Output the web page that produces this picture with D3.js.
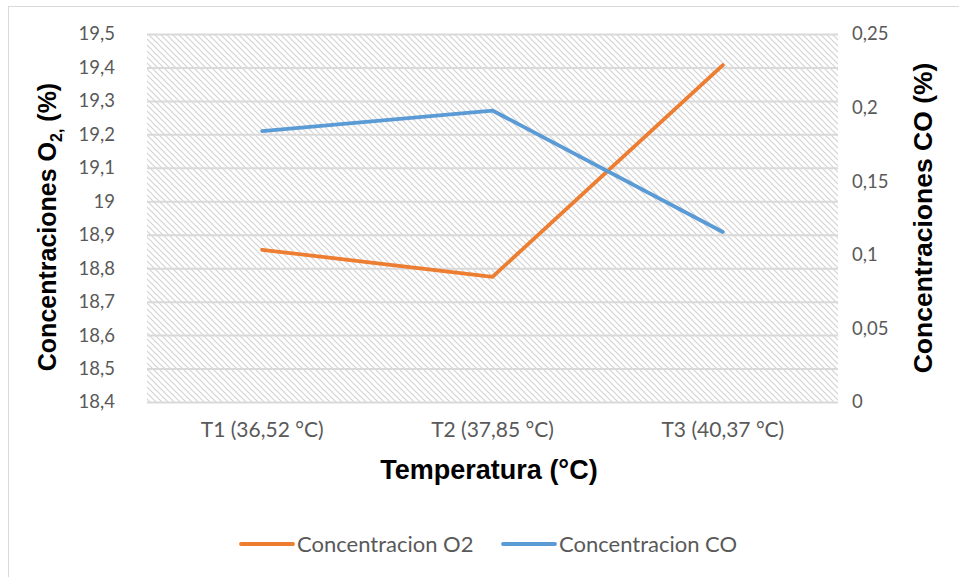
<!DOCTYPE html>
<html>
<head>
<meta charset="utf-8">
<script src="https://cdn.jsdelivr.net/npm/d3@7/dist/d3.min.js"></script>
<style>
  html, body { margin: 0; padding: 0; background: #fff; }
  svg { display: block; }
</style>
</head>
<body>
<svg id="chart" width="959" height="577"></svg>
<script>
// Temperature stages and measured gas concentrations
const categories = ["T1 (36,52 °C)", "T2 (37,85 °C)", "T3 (40,37 °C)"];
const o2Values = [18.855, 18.774, 19.407];
const coValues = [0.184, 0.198, 0.1155];

const o2Ticks = [18.4, 18.5, 18.6, 18.7, 18.8, 18.9, 19.0, 19.1, 19.2, 19.3, 19.4, 19.5];
const coTicks = [0, 0.05, 0.1, 0.15, 0.2, 0.25];

const seriesNames = ["Concentracion O2", "Concentracion CO"];
const seriesColors = ["#ED7D31", "#5B9BD5"];

const W = 959, H = 577;
const plot = { left: 147, right: 838, top: 34, bottom: 402 };

const svg = d3.select("#chart");
const fmt = v => String(+v.toFixed(2)).replace(".", ",");

// chart frame
svg.append("rect")
  .attr("x", 8.5).attr("y", 6.5)
  .attr("width", W).attr("height", H)
  .attr("fill", "#fff").attr("stroke", "#d9d9d9").attr("stroke-width", 1);

// diagonal hatch fill for the plot area
const defs = svg.append("defs");
const pat = defs.append("pattern")
  .attr("id", "hatch").attr("patternUnits", "userSpaceOnUse")
  .attr("width", 6).attr("height", 6);
pat.append("path")
  .attr("d", "M-1,-1 L7,7 M-1,5 L1,7 M5,-1 L7,1")
  .attr("stroke", "#d3d3d3").attr("stroke-width", 1.2);

const x = d3.scaleBand().domain(categories).range([plot.left, plot.right]);
const yL = d3.scaleLinear().domain([18.4, 19.5]).range([plot.bottom, plot.top]);
const yR = d3.scaleLinear().domain([0, 0.25]).range([plot.bottom, plot.top]);

svg.append("rect")
  .attr("x", plot.left).attr("y", plot.top)
  .attr("width", plot.right - plot.left).attr("height", plot.bottom - plot.top)
  .attr("fill", "url(#hatch)");

// horizontal gridlines on the O2 axis
const gridAxis = d3.axisLeft(yL).tickValues(o2Ticks)
  .tickSize(-(plot.right - plot.left)).tickFormat("");
const grid = svg.append("g").attr("transform", `translate(${plot.left},0)`).call(gridAxis);
grid.select(".domain").remove();
grid.selectAll("line").attr("stroke", "#d9d9d9").attr("stroke-width", 2);

const tickFont = "Lato, 'Open Sans', sans-serif";

// left axis (O2)
const leftAxis = svg.append("g")
  .attr("transform", `translate(${plot.left - 32},0)`)
  .call(d3.axisLeft(yL).tickValues(o2Ticks).tickSize(0).tickPadding(0).tickFormat(fmt));
leftAxis.select(".domain").remove();
leftAxis.selectAll("text")
  .attr("fill", "#595959").style("font-family", tickFont).style("font-size", "18.5px");

// right axis (CO)
const rightAxis = svg.append("g")
  .attr("transform", `translate(${plot.right + 14},0)`)
  .call(d3.axisRight(yR).tickValues(coTicks).tickSize(0).tickPadding(0).tickFormat(fmt));
rightAxis.select(".domain").remove();
rightAxis.selectAll("text")
  .attr("fill", "#595959").style("font-family", tickFont).style("font-size", "18.5px");

// category axis
const bottomAxis = svg.append("g")
  .attr("transform", `translate(0,${plot.bottom + 20})`)
  .call(d3.axisBottom(x).tickSize(0).tickPadding(0));
bottomAxis.select(".domain").remove();
bottomAxis.selectAll("text")
  .attr("fill", "#595959").style("font-family", tickFont).style("font-size", "21px");

// axis titles
const titleFont = "'Liberation Sans', Arial, sans-serif";
svg.append("text")
  .attr("x", 489).attr("y", 479)
  .attr("text-anchor", "middle")
  .style("font-family", titleFont).style("font-weight", "bold").style("font-size", "27px")
  .text("Temperatura (°C)");

const lt = svg.append("text")
  .attr("transform", `translate(56,${(plot.top + plot.bottom) / 2 + 9}) rotate(-90)`)
  .attr("text-anchor", "middle")
  .style("font-family", titleFont).style("font-weight", "bold").style("font-size", "25px");
lt.append("tspan").text("Concentraciones O");
lt.append("tspan").attr("dy", 6).style("font-size", "16px").text("2,");
lt.append("tspan").attr("dy", -6).text(" (%)");

svg.append("text")
  .attr("transform", `translate(932,${(plot.top + plot.bottom) / 2}) rotate(-90)`)
  .attr("text-anchor", "middle")
  .style("font-family", titleFont).style("font-weight", "bold").style("font-size", "26.5px")
  .text("Concentraciones CO (%)");

// series lines
const cx = d => x(d) + x.bandwidth() / 2;
const lineO2 = d3.line().x((d, i) => cx(categories[i])).y(d => yL(d));
const lineCO = d3.line().x((d, i) => cx(categories[i])).y(d => yR(d));

svg.append("path").datum(o2Values).attr("d", lineO2)
  .attr("fill", "none").attr("stroke", seriesColors[0])
  .attr("stroke-width", 3.8).attr("stroke-linejoin", "round").attr("stroke-linecap", "round");
svg.append("path").datum(coValues).attr("d", lineCO)
  .attr("fill", "none").attr("stroke", seriesColors[1])
  .attr("stroke-width", 3.8).attr("stroke-linejoin", "round").attr("stroke-linecap", "round");

// legend
const legendItems = [{ x: 241 }, { x: 503 }];
legendItems.forEach((it, i) => {
  const g = svg.append("g").attr("transform", `translate(${it.x},544)`);
  g.append("line").attr("x1", 0).attr("x2", 52).attr("y1", 0).attr("y2", 0)
    .attr("stroke", seriesColors[i]).attr("stroke-width", 3.8).attr("stroke-linecap", "round");
  g.append("text").attr("x", 56).attr("y", 8)
    .attr("fill", "#595959").style("font-family", tickFont).style("font-size", "22px")
    .text(seriesNames[i]);
});
</script>
</body>
</html>
